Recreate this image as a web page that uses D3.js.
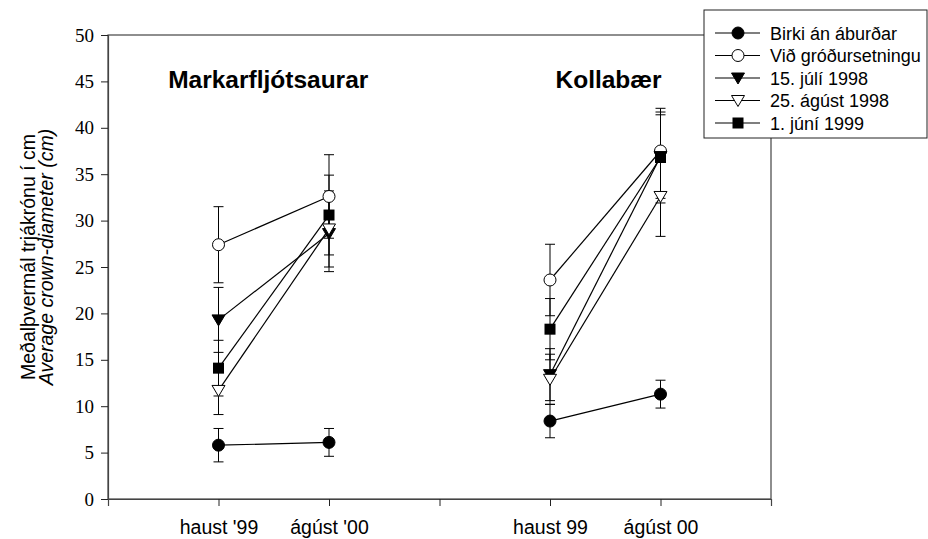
<!DOCTYPE html>
<html>
<head>
<meta charset="utf-8">
<script src="https://cdn.jsdelivr.net/npm/d3@7"></script>
<style>
  body { margin: 0; background: #fff; }
  svg { display: block; }
</style>
</head>
<body>
<svg id="chart" width="928" height="539"></svg>
<script>
// sites shown as titles over each pair of dates
const siteTitles = ['Markarfljótsaurar', 'Kollabær'];
const siteTitleX = [1.45, 4.53];

// x positions of the measurements and the axis labels
const xTicks = [1, 2, 3, 4, 5];
const xTickLabels = ["haust '99", "ágúst '00", '', 'haust 99', 'ágúst 00'];
const measureX = [1, 2, 4, 5];

const yTicks = [0, 5, 10, 15, 20, 25, 30, 35, 40, 45, 50];

const seriesNames = ['Birki án áburðar', 'Við gróðursetningu', '15. júlí 1998', '25. ágúst 1998', '1. júní 1999'];
const seriesMarkers = ['circleFilled', 'circleOpen', 'triDownFilled', 'triDownOpen', 'squareFilled'];

// means at haust '99, ágúst '00, haust 99, ágúst 00
const birkiMean = [5.8, 6.1, 8.4, 11.3];
const vidMean = [27.4, 32.6, 23.6, 37.5];
const juliMean = [19.3, 28.6, 13.4, 36.9];
const agustMean = [11.7, 29.1, 12.9, 32.6];
const juniMean = [14.1, 30.6, 18.3, 36.8];

// error bar half widths
const birkiErr = [1.8, 1.5, 1.8, 1.5];
const vidErr = [4.1, 4.5, 3.85, 4.6];
const juliErr = [3.5, 4.1, 2.8, 4.5];
const agustErr = [2.6, 4.1, 2.7, 4.3];
const juniErr = [3.0, 4.3, 3.3, 4.9];

const means = [birkiMean, vidMean, juliMean, agustMean, juniMean];
const errs = [birkiErr, vidErr, juliErr, agustErr, juniErr];

const svg = d3.select('#chart');
const plotLeft = 108, plotRight = 771, plotTop = 35, plotBottom = 499;

const x = d3.scaleLinear().domain([0, 6]).range([plotLeft, plotRight]);
const y = d3.scaleLinear().domain([0, 50]).range([plotBottom, plotTop]);

// frame
svg.append('rect')
  .attr('x', plotLeft).attr('y', plotTop)
  .attr('width', plotRight - plotLeft).attr('height', plotBottom - plotTop)
  .attr('fill', 'none').attr('stroke', '#444').attr('stroke-width', 1.2);

// y axis
const yAxis = svg.append('g')
  .attr('transform', 'translate(' + plotLeft + ',0)')
  .call(d3.axisLeft(y).tickValues(yTicks).tickSize(7).tickPadding(7));
yAxis.select('.domain').attr('stroke', '#444').attr('stroke-width', 1.2);
yAxis.selectAll('.tick line').attr('stroke', '#222');
yAxis.selectAll('text')
  .attr('font-family', '"Liberation Serif", "Times New Roman", serif')
  .attr('font-size', 19).attr('fill', '#000');

// x axis
const xAxis = svg.append('g')
  .attr('transform', 'translate(0,' + plotBottom + ')')
  .call(d3.axisBottom(x).tickValues(xTicks).tickSize(7).tickPadding(14)
    .tickFormat((d, i) => xTickLabels[i]));
xAxis.select('.domain').attr('stroke', '#444').attr('stroke-width', 1.2);
xAxis.selectAll('.tick line').attr('stroke', '#222');
xAxis.selectAll('text')
  .attr('font-family', '"Liberation Sans", Arial, sans-serif')
  .attr('font-size', 19.5).attr('fill', '#000');

// y axis title, two lines
const yTitle = svg.append('text')
  .attr('transform', 'translate(0,257) rotate(-90)')
  .attr('text-anchor', 'middle')
  .attr('font-family', '"Liberation Sans", Arial, sans-serif')
  .attr('font-size', 19.5);
yTitle.append('tspan').attr('x', 0).attr('y', 35).text('Meðalþvermál trjákrónu í cm');
yTitle.append('tspan').attr('x', 0).attr('y', 53).attr('font-style', 'italic').text('Average crown-diameter (cm)');

// site titles
svg.selectAll('.site')
  .data(siteTitles)
  .join('text')
  .attr('class', 'site')
  .attr('x', (d, i) => x(siteTitleX[i]))
  .attr('y', 88)
  .attr('text-anchor', 'middle')
  .attr('font-family', '"Liberation Sans", Arial, sans-serif')
  .attr('font-weight', 'bold')
  .attr('font-size', 24.5)
  .text(d => d);

function drawMarker(g, type, cx, cy) {
  if (type === 'circleFilled' || type === 'circleOpen') {
    g.append('circle').attr('cx', cx).attr('cy', cy).attr('r', 6)
      .attr('fill', type === 'circleFilled' ? '#000' : '#fff')
      .attr('stroke', '#000').attr('stroke-width', 1);
  } else if (type === 'triDownFilled' || type === 'triDownOpen') {
    const pts = [[cx - 6.5, cy - 5], [cx + 6.5, cy - 5], [cx, cy + 6]];
    g.append('polygon').attr('points', pts.map(p => p.join(',')).join(' '))
      .attr('fill', type === 'triDownFilled' ? '#000' : '#fff')
      .attr('stroke', '#000').attr('stroke-width', 1);
  } else {
    g.append('rect').attr('x', cx - 5.5).attr('y', cy - 5.5).attr('width', 11).attr('height', 11)
      .attr('fill', '#000');
  }
}

const plot = svg.append('g');

// error bars first
means.forEach((m, s) => {
  m.forEach((v, i) => {
    const e = errs[s][i];
    const cx = x(measureX[i]);
    const g = plot.append('g').attr('stroke', '#000').attr('stroke-width', 1);
    g.append('line').attr('x1', cx).attr('x2', cx).attr('y1', y(v - e)).attr('y2', y(v + e));
    [v - e, v + e].forEach(b => {
      g.append('line').attr('x1', cx - 5).attr('x2', cx + 5).attr('y1', y(b)).attr('y2', y(b));
    });
  });
});

// connecting lines per site
const line = d3.line().x(d => x(d[0])).y(d => y(d[1]));
means.forEach(m => {
  [[0, 1], [2, 3]].forEach(pair => {
    plot.append('path')
      .attr('d', line(pair.map(i => [measureX[i], m[i]])))
      .attr('fill', 'none').attr('stroke', '#000').attr('stroke-width', 1.2);
  });
});

// markers
means.forEach((m, s) => {
  m.forEach((v, i) => drawMarker(plot, seriesMarkers[s], x(measureX[i]), y(v)));
});

// legend
const legend = svg.append('g');
legend.append('rect')
  .attr('x', 704).attr('y', 10).attr('width', 223).attr('height', 128)
  .attr('fill', '#fff').attr('stroke', '#222').attr('stroke-width', 1);
seriesNames.forEach((name, i) => {
  const ly = 33 + i * 22.5;
  legend.append('line').attr('x1', 715).attr('x2', 760).attr('y1', ly).attr('y2', ly)
    .attr('stroke', '#000').attr('stroke-width', 1.2);
  drawMarker(legend, seriesMarkers[i], 738, ly);
  legend.append('text')
    .attr('x', 770).attr('y', ly + 6.5)
    .attr('font-family', '"Liberation Sans", Arial, sans-serif')
    .attr('font-size', 18)
    .text(name);
});
</script>
</body>
</html>
